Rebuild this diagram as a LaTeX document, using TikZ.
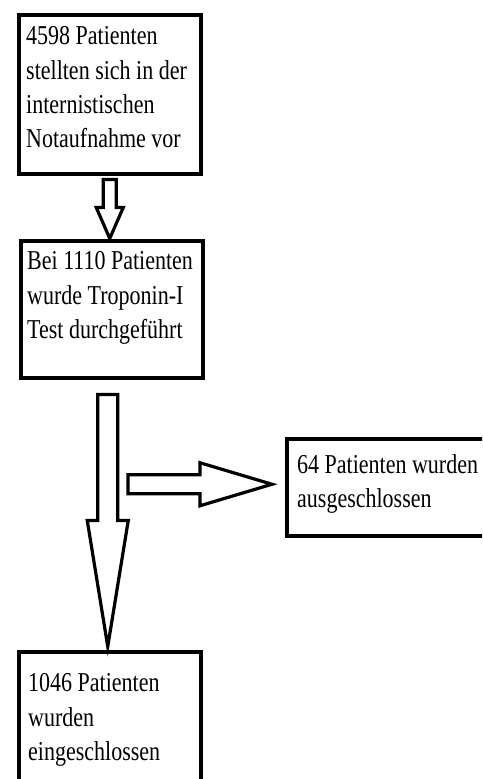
\documentclass[tikz,border=0pt]{standalone}
\usepackage{fontspec}
\setmainfont{Liberation Serif}
\usetikzlibrary{calc}
\begin{document}
\begin{tikzpicture}[x=1pt,y=-1pt,
  box/.style={draw, line width=3.5pt, inner sep=0pt, anchor=north west},
  lbl/.style={font=\fontsize{22}{27.7}\selectfont, align=left, inner sep=0pt,
              anchor=north west, yscale=1.24, transform shape},
  blockarrow/.style={draw, line width=3.2pt, fill=white, line join=miter}]
\useasboundingbox (0,0) rectangle (482,779);
\clip (0,0) rectangle (482,779);
\fill[white] (0,0) rectangle (482,779);
% boxes
\node[box, minimum width=182pt, minimum height=159pt] (b1) at (17,13) {};
\node[box, minimum width=182pt, minimum height=137pt] (b2) at (19,239) {};
\node[box, minimum width=220pt, minimum height=97pt] (b3) at (285,437) {};
\node[box, minimum width=182pt, minimum height=200pt] (b4) at (17,650) {};
% texts
\node[lbl] (t1) at ($(b1.north west)+(9,13.5)$) {4598 Patienten\\stellten sich in der\\internistischen\\Notaufnahme vor};
\node[lbl] (t2) at ($(b2.north west)+(8,12.5)$) {Bei 1110 Patienten\\wurde Troponin-I\\Test durchgeführt};
\node[lbl] (t3) at ($(b3.north west)+(12,17)$) {64 Patienten wurden\\ausgeschlossen};
\node[lbl] (t4) at ($(b4.north west)+(11,23.5)$) {1046 Patienten\\wurden\\eingeschlossen};
% arrow b1 -> b2
\begin{scope}[shift={(b1.south)}]
  \draw[blockarrow] (-6.5,4) -- (-6.5,32) -- (-13.5,32) -- (0,63) -- (13.5,32) -- (6.5,32) -- (6.5,4) -- cycle;
\end{scope}
% arrow b2 -> b4
\begin{scope}[shift={($(b2.south)+(-4,0)$)}]
  \draw[blockarrow] (-10,15) -- (-10,141) -- (-20.5,141) -- (0,267) -- (20.5,141) -- (10,141) -- (10,15) -- cycle;
\end{scope}
% arrow to b3
\begin{scope}[shift={($(b3.west)+(0,-3)$)}]
  \draw[blockarrow] (-157,-9.5) -- (-85,-9.5) -- (-85,-21.5) -- (-13,0) -- (-85,21.5) -- (-85,9.5) -- (-157,9.5) -- cycle;
\end{scope}
\end{tikzpicture}
\end{document}
